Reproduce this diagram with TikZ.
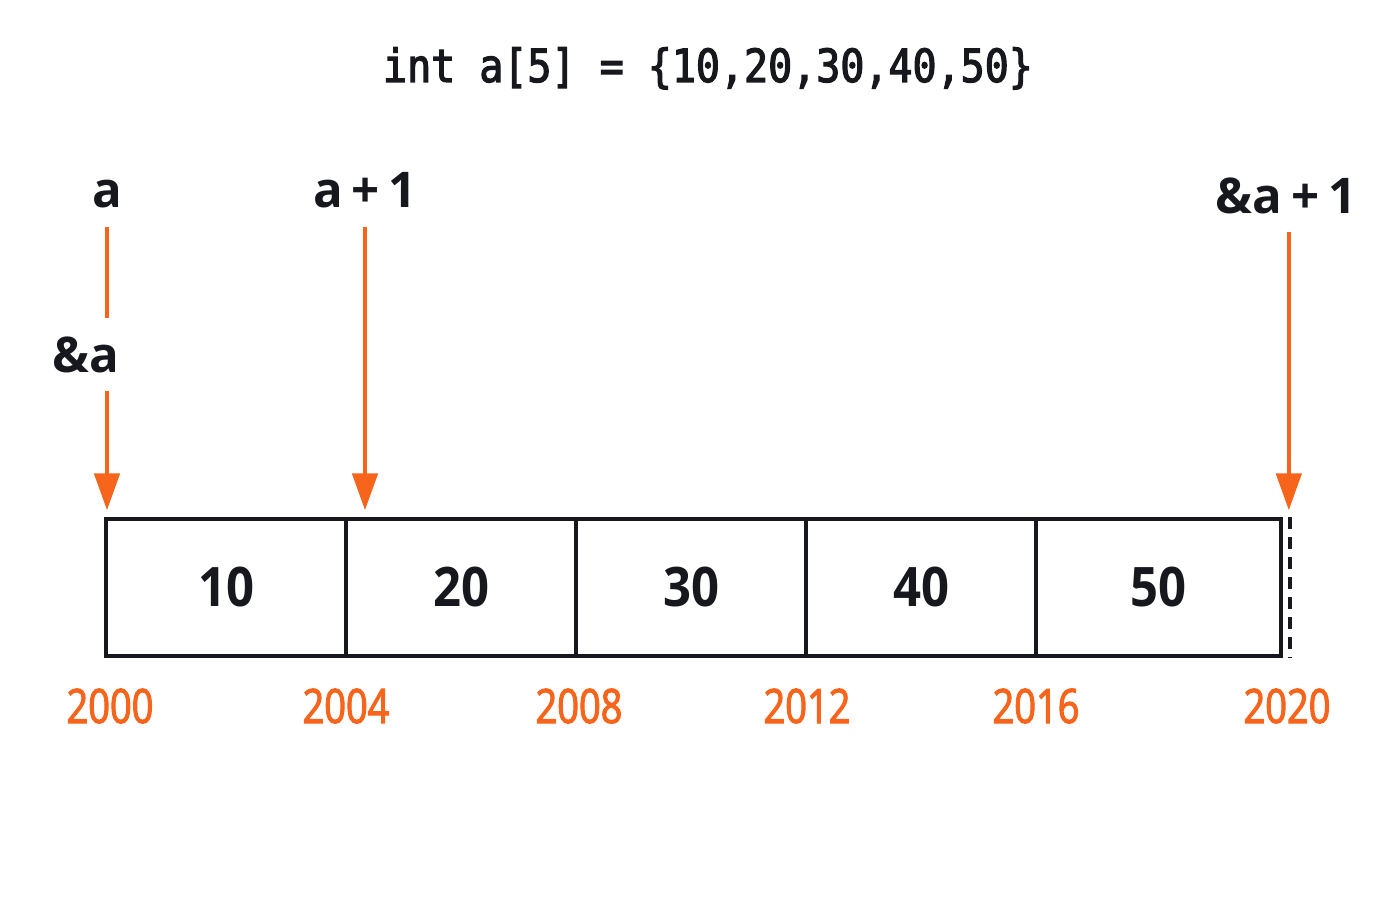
\documentclass[tikz,border=0pt]{standalone}
\usepackage{fontspec}
\setmainfont{Open Sans}
\newfontfamily\codefont[FakeStretch=0.875,FakeBold=2.6]{DejaVu Sans Mono}
\newfontfamily\addrfont[FakeStretch=0.8,FakeBold=2.2]{Open Sans}
\newfontfamily\cellfont[FakeStretch=0.9]{Open Sans}
\usetikzlibrary{positioning}
\usetikzlibrary{arrows.meta}
\definecolor{ptrorange}{RGB}{247,100,27}
\definecolor{inkblack}{RGB}{22,24,30}
\tikzset{cell/.style={draw=inkblack, line width=1pt, minimum height=1.37cm, inner sep=0pt, text=inkblack, font=\cellfont\fontsize{15.5}{18}\selectfont\bfseries}}
\tikzset{lbl/.style={inner sep=0pt, outer ysep=5.3pt, text=inkblack, font=\fontsize{14}{17}\selectfont\bfseries}}
\tikzset{addr/.style={anchor=base, text=ptrorange, font=\addrfont\fontsize{13.5}{16}\selectfont}}
\tikzset{ptrline/.style={draw=ptrorange, line width=1.1pt}}
\tikzset{ptr/.style={ptrline, -{Triangle[width=7.2pt,length=10.5pt]}, shorten >=2pt}}

\begin{document}
\begin{tikzpicture}
\useasboundingbox (0,0) rectangle (14,9);
\node[anchor=base, text=inkblack, font=\codefont\fontsize{13}{16}\selectfont] (decl) at (7.08,8.18) {int a[5] = \{10,20,30,40,50\}};
\foreach \name/\l/\r/\v in {c1/1.06/3.46/10, c2/3.46/5.76/20, c3/5.76/8.06/30, c4/8.06/10.36/40, c5/10.36/12.81/50} {
\node[cell, minimum width={(\r-\l)*1cm}] (\name) at ({(\l+\r)/2},3.125) {\v};
}
\draw[inkblack, line width=1pt, dash pattern=on 3.4pt off 2.3pt] ([xshift=2pt]c5.north east) -- ([xshift=2pt]c5.south east);
% pointer labels
\node[lbl, anchor=base] (a) at (1.07,6.92) {a};
\node[lbl, anchor=base] (ampa) at (0.86,5.28) {\&a};
\node[lbl, anchor=base] (a1) at (3.65,6.92) {a\kern2.5pt+\kern2.5pt1};
\node[lbl, anchor=base] (enda) at (12.86,6.87) {\&a\kern2.5pt+\kern2.5pt1};
\draw[ptrline] (a.south) -- (a.south |- ampa.north);
\draw[ptr] (a.south |- ampa.south) -- (a.south |- c1.north);
\draw[ptr] (a1.south) -- (a1.south |- c2.north);
\draw[ptr] ([xshift=0.8pt]enda.south) -- ([xshift=0.8pt]enda.south |- c5.north);
% addresses
\node[addr] (m0) at (1.10,1.77) {2000};
\node[addr] (m1) at (3.46,1.77) {2004};
\node[addr] (m2) at (5.79,1.77) {2008};
\node[addr] (m3) at (8.07,1.77) {2012};
\node[addr] (m4) at (10.36,1.77) {2016};
\node[addr] (m5) at (12.87,1.77) {2020};
\end{tikzpicture}
\end{document}
